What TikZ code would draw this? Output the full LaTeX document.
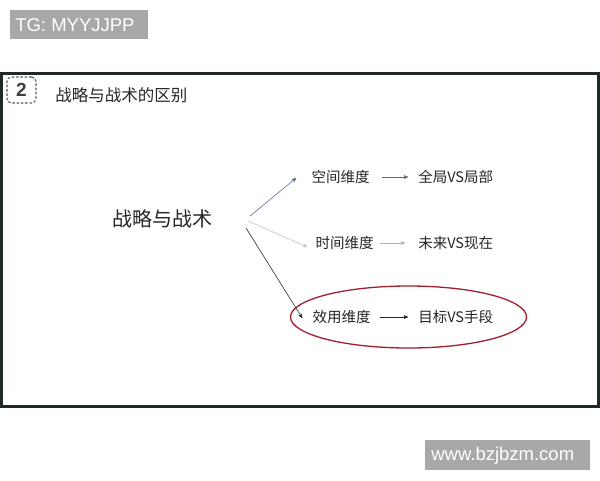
\documentclass[tikz,border=0pt]{standalone}
\usepackage{fontspec}
\setmainfont{Noto Sans CJK SC}
\newfontfamily\wmfont{Liberation Sans}
\usetikzlibrary{arrows}

\definecolor{framegray}{HTML}{1F2927}
\definecolor{wmgray}{HTML}{A8A8A8}
\definecolor{bluegray}{HTML}{5A7194}
\definecolor{sandgray}{HTML}{C9C6B4}
\definecolor{inkgray}{HTML}{2E2E2E}
\definecolor{ringred}{HTML}{A2202E}

\begin{document}
\begin{tikzpicture}[x=1pt,y=-1pt,>=stealth',semithick]
    \tikzstyle{every node}=[inner sep=0pt,text=black!85]
    \tikzstyle{wm}=[fill=wmgray,text=white,font=\wmfont\fontsize{18.5}{20}\selectfont]
    \tikzstyle{dim}=[font=\fontsize{14.5}{16}\selectfont]
    \tikzstyle{link}=[->,line width=0.6pt]

    % canvas
    \fill[white] (0,0) rectangle (600,480);
    \useasboundingbox (0,0) rectangle (600,480);

    % watermarks
    \fill[wmgray] (10,10) rectangle (148,39);
    \node[wm,anchor=west] (tg) at (15,25.5) {TG: MYYJJPP};
    \fill[wmgray] (425,440) rectangle (590,470);
    \node[wm,anchor=west] (site) at (431,455.5) {www.bzjbzm.com};

    % slide
    \draw[line width=3pt,framegray] (1.5,73) rectangle (598,406);
    \node[draw=black!65,dash pattern=on 2.5pt off 1.8pt,line width=1.1pt,rounded corners=4.5pt,
          minimum width=29pt,minimum height=26pt,text=black!75,
          font=\wmfont\bfseries\fontsize{19}{20}\selectfont] (num) at (21.5,90) {2};
    \node[anchor=west,font=\fontsize{16.5}{18}\selectfont] (title) at (55,95) {战略与战术的区别};

    \node[font=\fontsize{20}{22}\selectfont] (zl) at (162,219) {战略与战术};

    \node[dim] (kj) at (340.5,177) {空间维度};
    \node[dim] (sj) at (344.5,243) {时间维度};
    \node[dim] (xy) at (341.5,317) {效用维度};
    \node[dim,anchor=west] (qj) at (418,177) {全局VS局部};
    \node[dim,anchor=west] (wl) at (418,243) {未来VS现在};
    \node[dim,anchor=west] (mb) at (418,317) {目标VS手段};

    \coordinate (s1) at (250,216);
    \coordinate (s2) at (248,221);
    \coordinate (s3) at (246,228);

    \draw[link,bluegray] (s1) -- ([shift={(-15,1)}]kj.west);
    \draw[link,sandgray] (s2) -- ([shift={(-8,4)}]sj.west);
    \draw[link,inkgray] (s3) -- ([shift={(-10,1)}]xy.west);

    \draw[link,black!60,shorten <=12pt,shorten >=10pt] (kj.east) -- (qj.west);
    \draw[link,black!30,shorten <=6pt,shorten >=13pt] (sj.east) -- (wl.west);
    \draw[link,black!85,shorten <=9pt,shorten >=10pt] (xy.east) -- (mb.west);

    \draw[ringred,line width=1.3pt] (408.5,317) ellipse [x radius=118,y radius=31];
\end{tikzpicture}
\end{document}
